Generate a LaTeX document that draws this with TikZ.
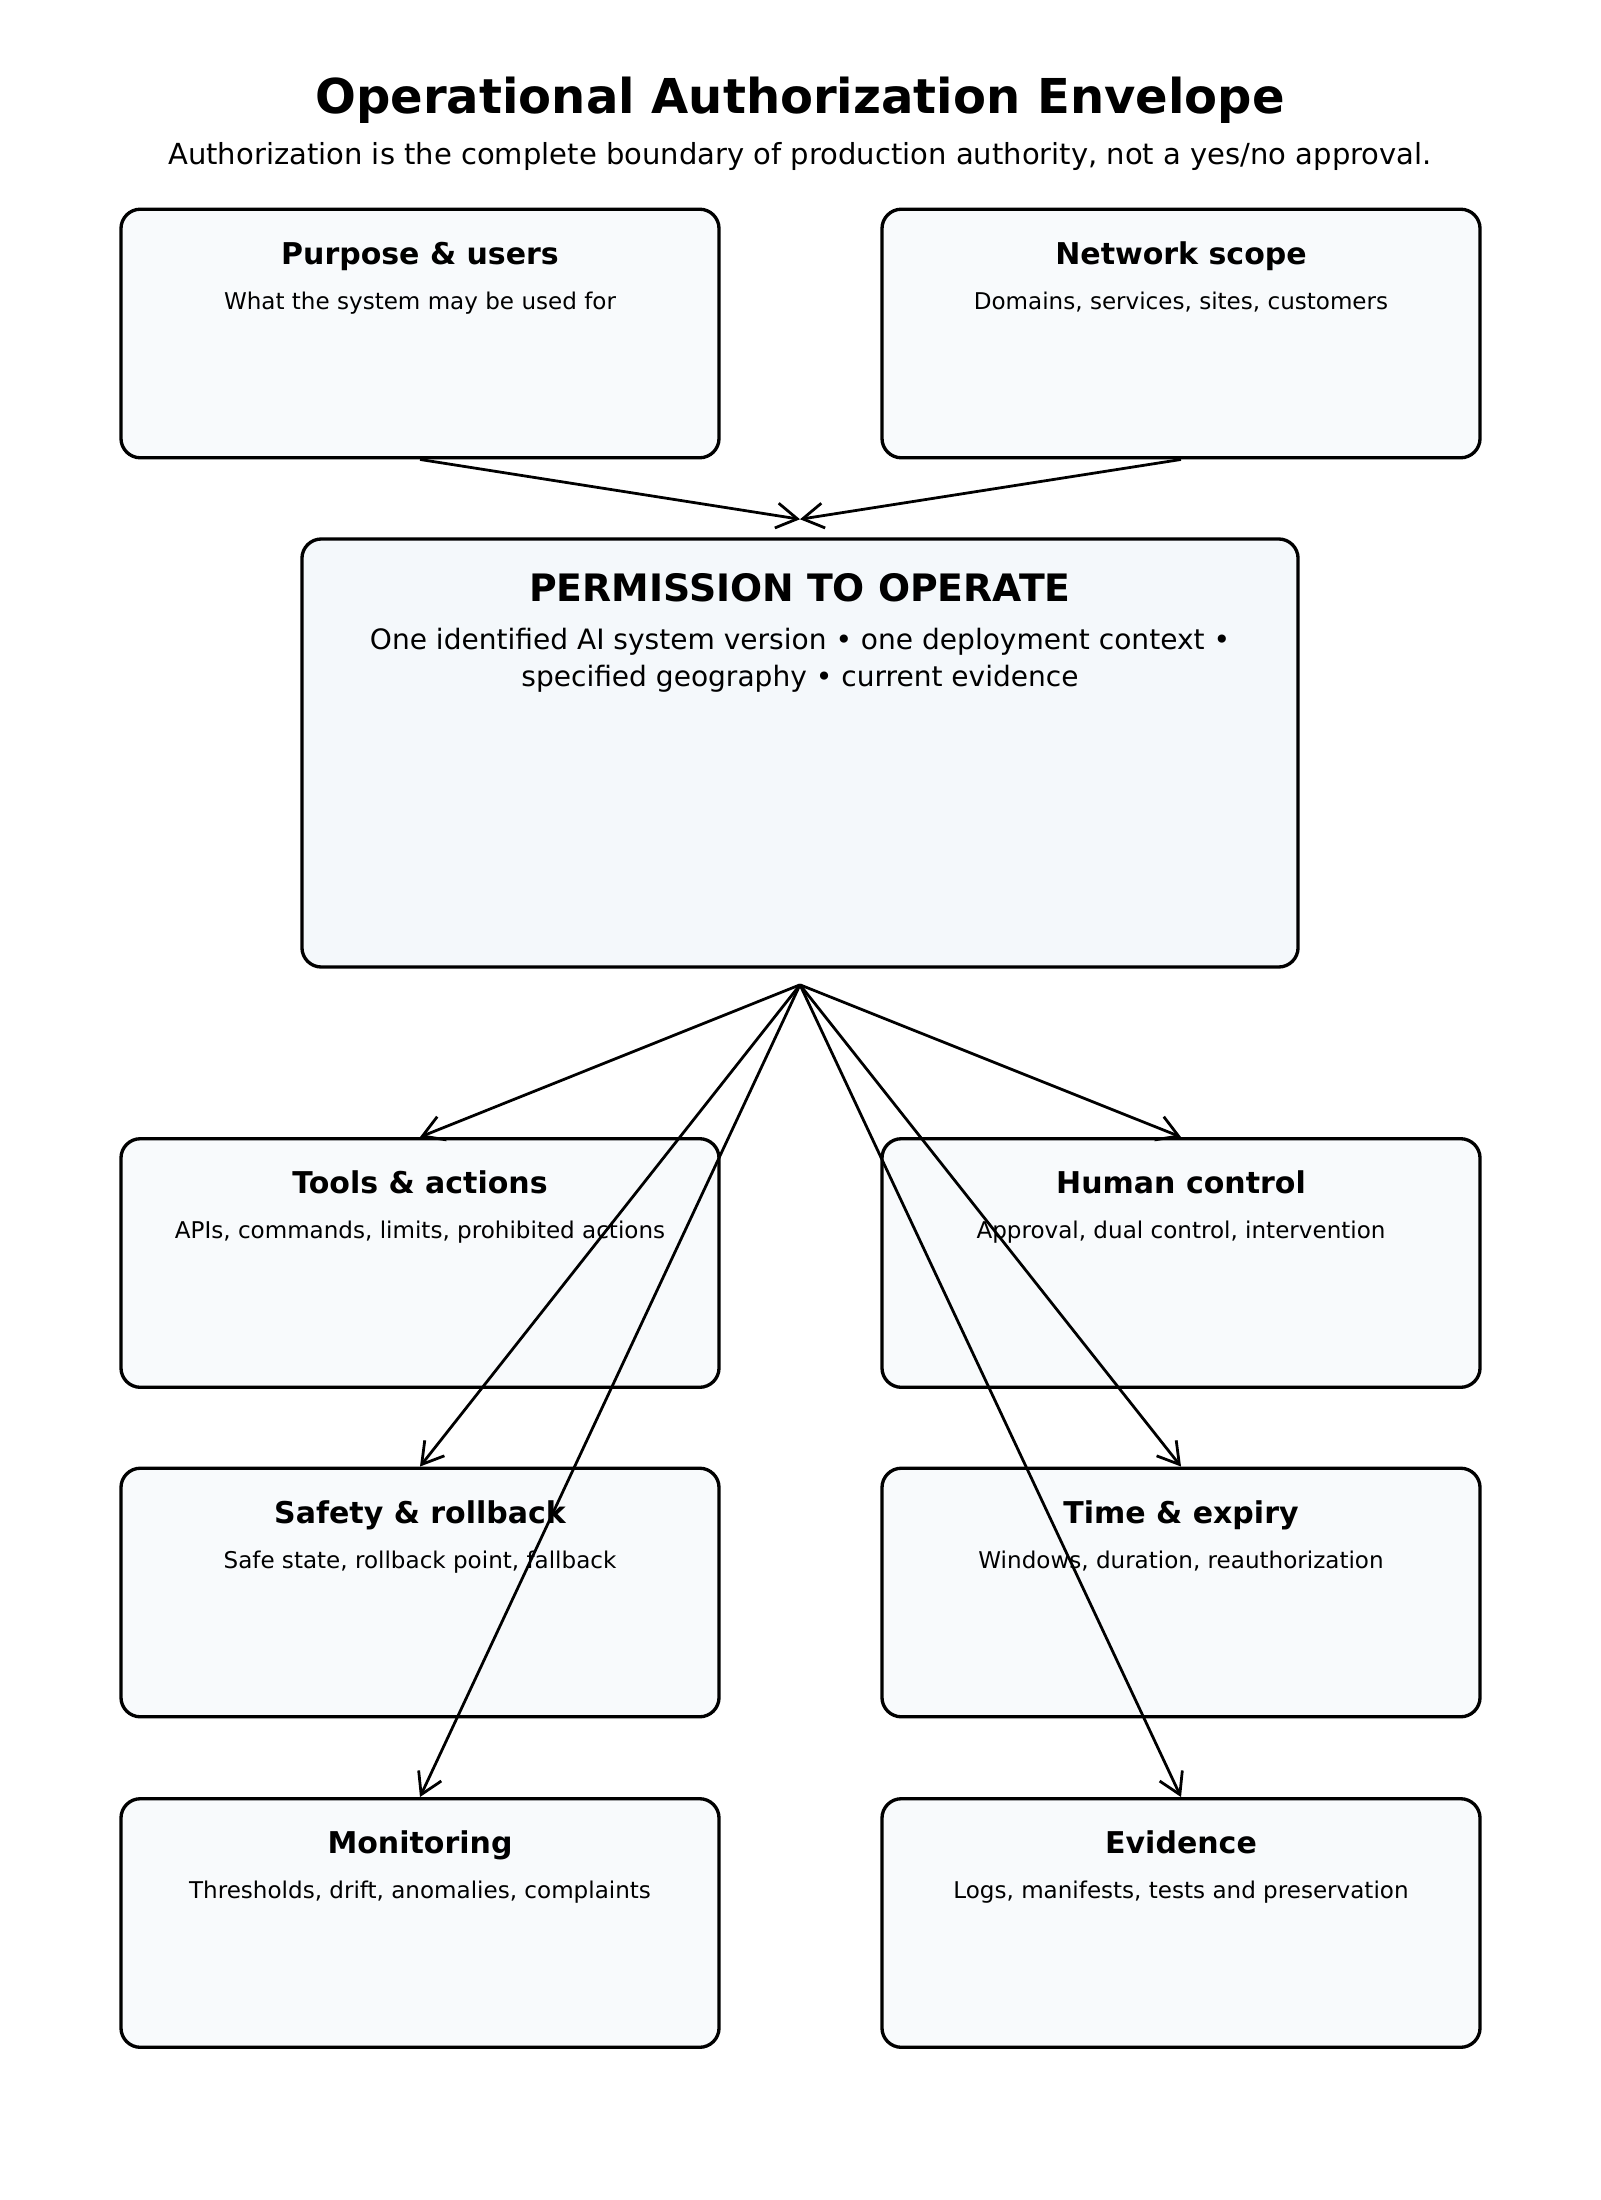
\documentclass[tikz,border=0pt]{standalone}
\usepackage{fontspec}
\setmainfont{DejaVu Sans}
\usetikzlibrary{positioning,arrows.meta}
\definecolor{boxfill}{HTML}{F8FAFC}
\definecolor{permfill}{HTML}{F4F8FB}

\begin{document}
\begin{tikzpicture}[
	x=0.36pt, y=-0.36pt,
	envbox/.style={draw,line width=1.2pt,rounded corners=7pt,fill=boxfill,minimum width=215.3pt,minimum height=89.5pt,inner sep=0pt},
	permbox/.style={envbox,fill=permfill,minimum width=358.6pt,minimum height=154.1pt},
	boxhead/.style={font=\fontsize{10.8}{13}\selectfont\bfseries,inner sep=0pt,text height=8pt,text depth=2.3pt},
	boxtext/.style={font=\fontsize{8.3}{10}\selectfont,inner sep=0pt,text height=6.2pt,text depth=1.8pt},
	arr/.style={-{Straight Barb[length=7.5pt,width=9pt]},line width=1pt}
	]
	\fill[white] (0,0) rectangle (1600,2200);
	\useasboundingbox (0,0) rectangle (1600,2200);
	% title
	\node[font=\fontsize{17.3}{21}\selectfont\bfseries] (title) at (800,100) {Operational Authorization Envelope};
	\node[font=\fontsize{10.45}{12}\selectfont] (subtitle) at (800,156) {Authorization is the complete boundary of production authority, not a yes/no approval.};
	% inputs
	\node[envbox] (purpose) at (420,333.5) {};
	\node[envbox] (network) at (1181,333.5) {};
	\node[boxhead] at ([yshift=-17.5pt]purpose.north) {Purpose \& users};
	\node[boxtext] at ([yshift=-34.5pt]purpose.north) {What the system may be used for};
	\node[boxhead] at ([yshift=-17.5pt]network.north) {Network scope};
	\node[boxtext] at ([yshift=-34.5pt]network.north) {Domains, services, sites, customers};
	% permission
	\node[permbox] (permit) at (800,753) {};
	\node[font=\fontsize{13.6}{17}\selectfont\bfseries,inner sep=0pt] at ([yshift=-18.3pt]permit.north) {PERMISSION TO OPERATE};
	\node[font=\fontsize{10.1}{13.6}\selectfont,align=center,inner sep=0pt] at ([yshift=-44.3pt]permit.north)
	{One identified AI system version • one deployment context •\\specified geography • current evidence};
	% conditions
	\node[envbox] (tools) at (420,1263) {};
	\node[envbox] (human) at (1181,1263) {};
	\node[envbox] (safety) at (420,1592.5) {};
	\node[envbox] (timeexp) at (1181,1592.5) {};
	\node[envbox] (monitor) at (420,1923) {};
	\node[envbox] (evidence) at (1181,1923) {};
	\node[boxhead] at ([yshift=-17.5pt]tools.north) {Tools \& actions};
	\node[boxtext] at ([yshift=-34.5pt]tools.north) {APIs, commands, limits, prohibited actions};
	\node[boxhead] at ([yshift=-17.5pt]human.north) {Human control};
	\node[boxtext] at ([yshift=-34.5pt]human.north) {Approval, dual control, intervention};
	\node[boxhead] at ([yshift=-17.5pt]safety.north) {Safety \& rollback};
	\node[boxtext] at ([yshift=-34.5pt]safety.north) {Safe state, rollback point, fallback};
	\node[boxhead] at ([yshift=-17.5pt]timeexp.north) {Time \& expiry};
	\node[boxtext] at ([yshift=-34.5pt]timeexp.north) {Windows, duration, reauthorization};
	\node[boxhead] at ([yshift=-17.5pt]monitor.north) {Monitoring};
	\node[boxtext] at ([yshift=-34.5pt]monitor.north) {Thresholds, drift, anomalies, complaints};
	\node[boxhead] at ([yshift=-17.5pt]evidence.north) {Evidence};
	\node[boxtext] at ([yshift=-34.5pt]evidence.north) {Logs, manifests, tests and preservation};
	% arrows
	\path[arr]
	(purpose.south) edge ([yshift=6.5pt]permit.north)
	(network.south) edge ([yshift=6.5pt]permit.north);
	\path[arr]
	([yshift=-5.8pt]permit.south) edge (tools.north)
	([yshift=-5.8pt]permit.south) edge (human.north)
	([yshift=-5.8pt]permit.south) edge (safety.north)
	([yshift=-5.8pt]permit.south) edge (timeexp.north)
	([yshift=-5.8pt]permit.south) edge (monitor.north)
	([yshift=-5.8pt]permit.south) edge (evidence.north);
\end{tikzpicture}
\end{document}
